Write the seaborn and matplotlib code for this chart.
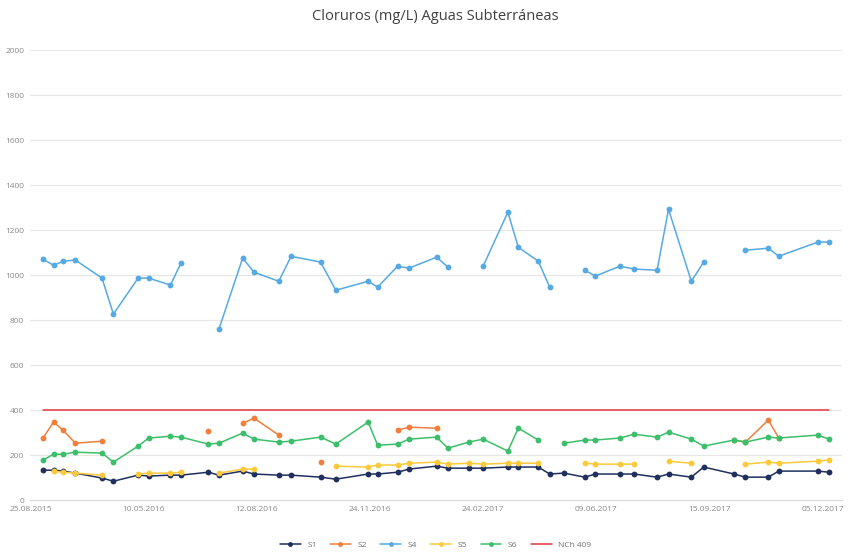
import numpy as np
import pandas as pd
import seaborn as sns
import matplotlib.pyplot as plt
from matplotlib.lines import Line2D

sns.set_style("white")
plt.rcParams['font.family'] = ['Open Sans', 'DejaVu Sans']

# fechas de muestreo
fechas = ["2015-09-07", "2015-09-18", "2015-09-28", "2015-10-11", "2015-11-08", "2015-11-20",
          "2015-12-16", "2015-12-27", "2016-01-19", "2016-01-30", "2016-02-28", "2016-03-10",
          "2016-04-04", "2016-04-16", "2016-05-12", "2016-05-25", "2016-06-25", "2016-07-11",
          "2016-08-14", "2016-08-24", "2016-09-14", "2016-09-26", "2016-10-25", "2016-11-06",
          "2016-11-28", "2016-12-13", "2017-01-08", "2017-01-19", "2017-02-09", "2017-02-21",
          "2017-03-08", "2017-03-30", "2017-04-10", "2017-05-06", "2017-05-21", "2017-06-14",
          "2017-06-26", "2017-07-20", "2017-08-02", "2017-09-03", "2017-09-15", "2017-10-09",
          "2017-10-20", "2017-11-30", "2017-12-12"]
nan = np.nan
s1 = [133, 133, 129, 120, 98, 84, 111, 107, 111, 111, 124, 111, 129, 116, 111, 111, 102, 93,
      116, 116, 124, 138, 151, 142, 142, 142, 147, 147, 147, 116, 120, 102, 116, 116, 116, 102,
      116, 102, 147, 116, 102, 102, 129, 129, 124]
s2 = [276, 347, 311, 253, 262, nan, nan, nan, nan, nan, 307, nan, 342, 364, 289, nan, 169, nan,
      nan, nan, 311, 324, 320, nan, nan, nan, nan, nan, nan, nan, nan, nan, nan, nan, nan, nan,
      nan, nan, nan, 267, 258, 356, 276, nan, nan]
s4 = [1071, 1044, 1062, 1067, 987, 827, 987, 987, 956, 1053, nan, 760, 1076, 1013, 973, 1084,
      1058, 933, 973, 947, 1040, 1031, 1080, 1036, nan, 1040, 1280, 1124, 1062, 947, nan, 1022,
      996, 1040, 1027, 1022, 1293, 973, 1058, nan, 1111, 1120, 1084, 1147, 1147]
s5 = [nan, 129, 124, 120, 111, nan, 116, 120, 120, 124, nan, 120, 138, 138, nan, nan, nan, 151,
      147, 156, 156, 164, 169, 160, 164, 160, 164, 164, 164, nan, nan, 164, 160, 160, 160, nan,
      173, 164, nan, nan, 160, 169, 164, 173, 178]
s6 = [178, 204, 204, 213, 209, 169, 240, 276, 284, 280, 249, 253, 298, 271, 258, 262, 280, 249,
      347, 244, 249, 271, 280, 231, 258, 271, 218, 320, 267, nan, 253, 267, 267, 276, 293, 280,
      302, 271, 240, 267, 258, 280, 276, 289, 271]
norma = 400

series = ["S1", "S2", "S4", "S5", "S6"]
colores = ["#1f2f5e", "#ef7f3a", "#55aae3", "#fcc93a", "#3cbf6a"]
color_norma = "#e0383c"

xticks_lbl = ["25.08.2015", "10.05.2016", "12.08.2016", "24.11.2016",
              "24.02.2017", "09.06.2017", "15.09.2017", "05.12.2017"]

# tabla larga, con tramos separados donde falta el dato
filas = []
for nombre, vals in zip(series, [s1, s2, s4, s5, s6]):
    tramo = 0
    for f, v in zip(fechas, vals):
        if np.isnan(v):
            tramo += 1
            continue
        filas.append({"fecha": pd.Timestamp(f), "valor": v, "serie": nombre, "tramo": tramo})
df = pd.DataFrame(filas)

fig = plt.figure(figsize=(8.5, 5.52), dpi=100)
ax = fig.add_axes([0.035, 0.094, 0.955, 0.815])

sns.lineplot(data=df, x="fecha", y="valor", hue="serie", units="tramo", estimator=None,
             palette=dict(zip(series, colores)), hue_order=series, marker="o",
             markersize=4.2, markeredgewidth=0, linewidth=1.1, legend=False, ax=ax)

lim = pd.DataFrame({"fecha": pd.to_datetime([fechas[0], fechas[-1]]), "valor": [norma, norma]})
sns.lineplot(data=lim, x="fecha", y="valor", color=color_norma, linewidth=1.1, ax=ax)

ax.set_ylim(0, 2000)
ax.set_yticks(np.arange(0, 2001, 200))
ax.yaxis.grid(True, color="#e6e6e6", linewidth=0.8)
ax.set_axisbelow(True)

t0 = pd.Timestamp("2015-08-25")
t1 = pd.Timestamp("2017-12-05")
pos = [t0 + (t1 - t0) * k / (len(xticks_lbl) - 1) for k in range(len(xticks_lbl))]
ax.set_xlim(t0 - pd.Timedelta(days=1), t1 + pd.Timedelta(days=20))
ax.set_xticks(pos)
ax.set_xticklabels(xticks_lbl)
ax.tick_params(axis="both", labelsize=6, colors="#8a8a8a", length=0, pad=4)
ax.set_xlabel("")
ax.set_ylabel("")
for s in ["top", "right", "left"]:
    ax.spines[s].set_visible(False)
ax.spines["bottom"].set_color("#d9d9d9")

ax.set_title("Cloruros (mg/L) Aguas Subterráneas", fontsize=10.5, color="#404040", pad=22)

handles = [Line2D([], [], color=c, marker="o", markersize=3.5, markeredgewidth=0, linewidth=1.1)
           for c in colores]
handles.append(Line2D([], [], color=color_norma, linewidth=1.1))
ax.legend(handles, series + ["NCh 409"], loc="upper center", bbox_to_anchor=(0.5, -0.075),
          ncol=6, frameon=False, fontsize=6, labelcolor="#707070", handlelength=2.5,
          columnspacing=1.6)

plt.savefig("out.png", dpi=100)
